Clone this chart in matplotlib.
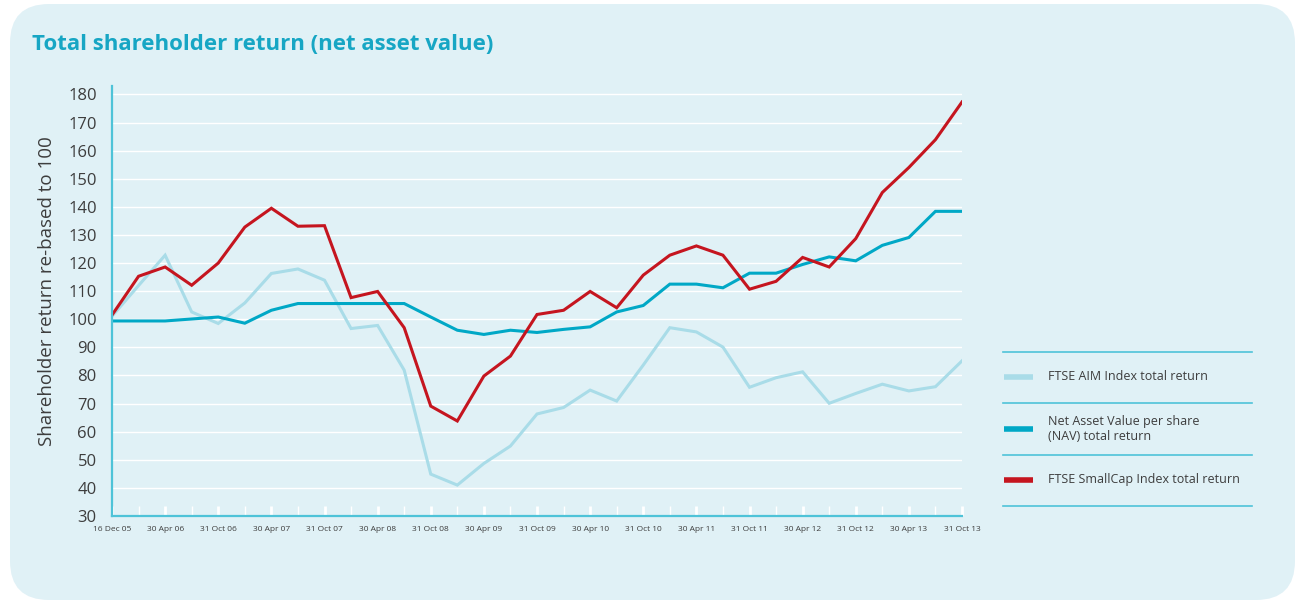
import matplotlib
matplotlib.use("Agg")
import matplotlib.pyplot as plt
from matplotlib.patches import FancyBboxPatch
from matplotlib.lines import Line2D
import numpy as np

plt.rcParams['font.family'] = ['Open Sans', 'DejaVu Sans']

# quarterly-ish observation points, labels every second point
tick_labels = ['16 Dec 05', '30 Apr 06', '31 Oct 06', '30 Apr 07', '31 Oct 07',
               '30 Apr 08', '31 Oct 08', '30 Apr 09', '31 Oct 09', '30 Apr 10',
               '31 Oct 10', '30 Apr 11', '31 Oct 11', '30 Apr 12', '31 Oct 12',
               '30 Apr 13', '31 Oct 13']

aim_return = [101.1, 112.0, 122.8, 102.6, 98.5, 105.8, 116.3, 117.9, 113.9, 96.7,
              97.8, 81.9, 44.9, 41.0, 48.7, 54.9, 66.3, 68.6, 74.8, 70.9,
              83.7, 97.0, 95.5, 90.1, 75.8, 79.2, 81.3, 70.1, 73.6, 76.9,
              74.5, 76.0, 85.2]

nav_return = [99.4, 99.4, 99.4, 100.1, 100.8, 98.6, 103.2, 105.6, 105.6, 105.6,
              105.6, 105.6, 100.8, 96.1, 94.6, 96.1, 95.3, 96.4, 97.3, 102.6,
              104.9, 112.5, 112.5, 111.2, 116.4, 116.4, 119.5, 122.2, 120.8, 126.3,
              129.1, 138.4, 138.4]

smallcap_return = [101.5, 115.3, 118.6, 112.1, 120.0, 132.8, 139.5, 133.1, 133.3, 107.7,
                   109.9, 97.0, 69.1, 63.8, 79.8, 86.9, 101.7, 103.2, 109.9, 104.1,
                   115.7, 122.8, 126.1, 122.8, 110.7, 113.5, 122.0, 118.6, 128.7, 145.1,
                   154.0, 163.9, 177.3]

y_ticks = list(range(30, 181, 10))

bg = '#e0f1f6'
teal = '#00a8c6'
light = '#a9dce8'
red = '#c5151f'
spine_col = '#4ec3d8'
text_col = '#3d3d3d'

W, H = 1302, 604
fig = plt.figure(figsize=(W / 100, H / 100), dpi=100)
fig.patch.set_facecolor('white')

# rounded panel behind everything
panel = FancyBboxPatch((10 / W, 4 / H), 1285 / W, 596 / H,
                       boxstyle='round,pad=0,rounding_size=0.03',
                       transform=fig.transFigure, facecolor=bg, edgecolor='none',
                       mutation_aspect=W / H, zorder=-10)
fig.add_artist(panel)

fig.text(32 / W, 1 - 45 / H, 'Total shareholder return (net asset value)',
         fontsize=16, fontweight='bold', color='#17a6c4', va='center', ha='left')

ax = fig.add_axes([112 / W, 88 / H, 850 / W, 430 / H])
ax.set_facecolor(bg)
x = np.arange(len(nav_return))

ax.set_xlim(0, len(x) - 1)
ax.set_ylim(30, 183)
ax.set_yticks(y_ticks)
ax.yaxis.grid(True, color='white', lw=1.0)
ax.set_axisbelow(True)

ax.plot(x, aim_return, color=light, lw=2.2, solid_joinstyle='miter')
ax.plot(x, nav_return, color=teal, lw=2.2, solid_joinstyle='miter')
ax.plot(x, smallcap_return, color=red, lw=2.2, solid_joinstyle='miter')

for s in ['top', 'right']:
    ax.spines[s].set_visible(False)
for s in ['left', 'bottom']:
    ax.spines[s].set_color(spine_col)
    ax.spines[s].set_linewidth(1.6)

ax.set_xticks(x[::2])
ax.set_xticklabels(tick_labels)
ax.set_xticks(x[1::2], minor=True)
ax.tick_params(axis='x', which='major', direction='in', length=7, width=2,
               color='white', labelsize=6, labelcolor=text_col, pad=7)
ax.tick_params(axis='x', which='minor', direction='in', length=7, width=1,
               color='white')
ax.tick_params(axis='y', length=0, labelsize=12, labelcolor=text_col, pad=11)

fig.text(47 / W, 1 - 291 / H, 'Shareholder return re-based to 100',
         rotation=90, fontsize=13.5, color=text_col, va='center', ha='center')

# legend block on the right
for yy in [352, 403, 455, 506]:
    fig.add_artist(Line2D([1003 / W, 1252 / W], [1 - yy / H, 1 - yy / H],
                          color=spine_col, lw=1.2, transform=fig.transFigure))
legend_items = [(light, 'FTSE AIM Index total return', 377),
                (teal, 'Net Asset Value per share\n(NAV) total return', 429),
                (red, 'FTSE SmallCap Index total return', 480)]
for col, label, yy in legend_items:
    fig.add_artist(Line2D([1004 / W, 1033 / W], [1 - yy / H, 1 - yy / H],
                          color=col, lw=4, solid_capstyle='butt',
                          transform=fig.transFigure))
    fig.text(1048 / W, 1 - yy / H, label, fontsize=9, color=text_col,
             va='center', ha='left', linespacing=1.3)

fig.savefig('out.png', dpi=100, facecolor=fig.get_facecolor())
